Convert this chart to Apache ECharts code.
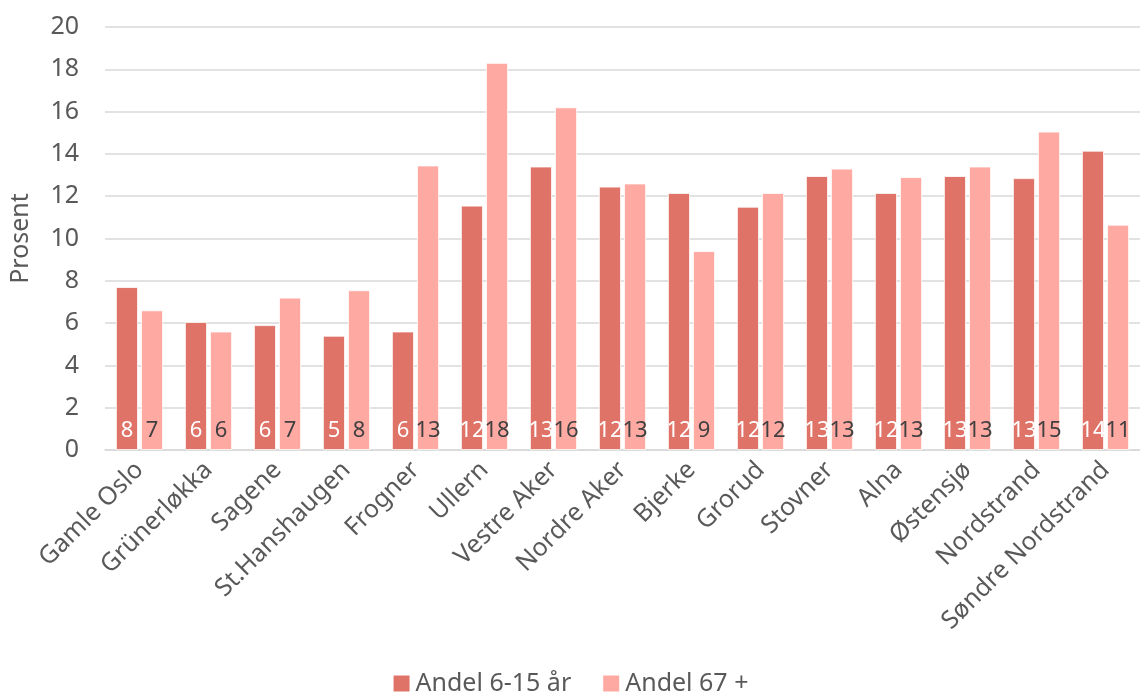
<!DOCTYPE html>
<html>
<head>
<meta charset="utf-8">
<script src="https://cdn.jsdelivr.net/npm/echarts@6/dist/echarts.min.js"></script>
<style>
    html, body { margin: 0; padding: 0; background: #fff; }
    #chart { width: 1140px; height: 698px; }
</style>
</head>
<body>
<div id="chart"></div>
<script>
    // bydeler
    const categories = ['Gamle Oslo', 'Grünerløkka', 'Sagene', 'St.Hanshaugen', 'Frogner', 'Ullern',
        'Vestre Aker', 'Nordre Aker', 'Bjerke', 'Grorud', 'Stovner', 'Alna', 'Østensjø', 'Nordstrand',
        'Søndre Nordstrand'];
    const andel6til15 = [7.7, 6.05, 5.9, 5.4, 5.6, 11.55, 13.4, 12.45, 12.15, 11.5, 12.95, 12.15, 12.95, 12.85, 14.15];
    const andel67pluss = [6.6, 5.6, 7.2, 7.55, 13.45, 18.3, 16.2, 12.6, 9.4, 12.15, 13.3, 12.9, 13.4, 15.05, 10.65];
    const seriesNames = ['Andel 6-15 år', 'Andel 67 +'];

    const font = '"Noto Sans", sans-serif';
    const textColor = '#595959';

    const chart = echarts.init(document.getElementById('chart'));

    function barSeries(name, data, color, labelColor) {
        return {
            name: name,
            type: 'bar',
            data: data,
            barWidth: 22,
            barGap: '14%',
            itemStyle: {color: color, borderColor: '#fff', borderWidth: 0.8},
            label: {
                show: true,
                position: 'insideBottom',
                distance: 8,
                color: labelColor,
                fontFamily: font,
                fontSize: 22,
                formatter: p => Math.round(p.value)
            },
            animation: false
        };
    }

    chart.setOption({
        textStyle: {fontFamily: font},
        grid: {left: 105, right: 0, top: 27, bottom: 248},
        legend: {
            bottom: -3,
            left: 'center',
            itemWidth: 18,
            itemHeight: 18,
            itemGap: 30,
            icon: 'rect',
            textStyle: {color: textColor, fontSize: 25, fontFamily: font},
            data: seriesNames
        },
        xAxis: {
            type: 'category',
            data: categories,
            axisLine: {lineStyle: {color: '#d9d9d9', width: 1.5}},
            axisTick: {show: false},
            axisLabel: {
                rotate: 45,
                interval: 0,
                color: textColor,
                fontSize: 25,
                fontFamily: font,
                margin: 16
            }
        },
        yAxis: {
            type: 'value',
            min: 0,
            max: 20,
            interval: 2,
            name: 'Prosent',
            nameLocation: 'middle',
            nameGap: 72,
            nameTextStyle: {color: textColor, fontSize: 25, fontFamily: font},
            axisLabel: {color: textColor, fontSize: 25, fontFamily: font, margin: 26},
            splitLine: {lineStyle: {color: '#d9d9d9', width: 1.5}},
            axisLine: {show: false},
            axisTick: {show: false}
        },
        series: [
            barSeries(seriesNames[0], andel6til15, '#E07367', '#ffffff'),
            barSeries(seriesNames[1], andel67pluss, '#FFA9A3', '#404040')
        ]
    });
</script>
</body>
</html>
